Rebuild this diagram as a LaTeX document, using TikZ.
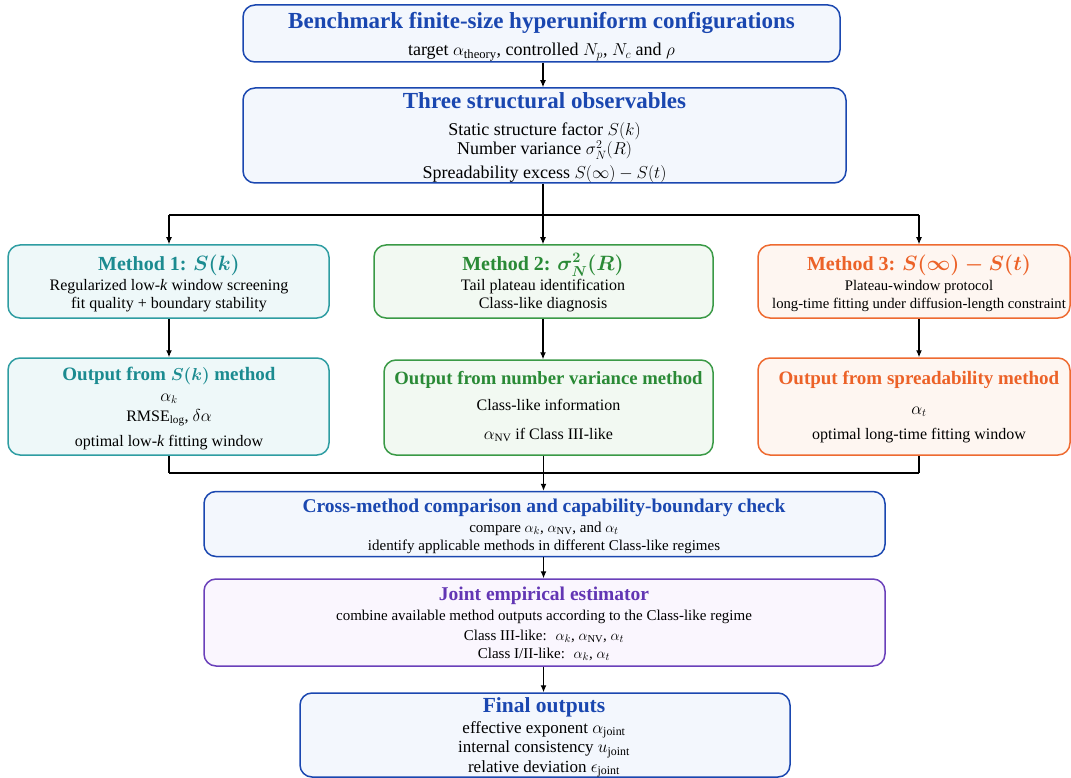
\documentclass[tikz,border=0pt]{standalone}
\usepackage{amsmath}
\usepackage{fontspec}
\setmainfont{Liberation Serif}
\usetikzlibrary{arrows.meta}
\definecolor{cblue}{HTML}{1A47B0}
\definecolor{fblue}{HTML}{F3F7FD}
\definecolor{cteal}{HTML}{1B8B90}
\definecolor{bteal}{HTML}{2E9DA2}
\definecolor{fteal}{HTML}{EEF8F9}
\definecolor{cgreen}{HTML}{2A8A36}
\definecolor{bgreen}{HTML}{3A9A46}
\definecolor{fgreen}{HTML}{F2F9F2}
\definecolor{corange}{HTML}{EC6228}
\definecolor{borange}{HTML}{EE6A30}
\definecolor{forange}{HTML}{FEF6F1}
\definecolor{cpurple}{HTML}{6236B4}
\definecolor{bpurple}{HTML}{6A40BA}
\definecolor{fpurple}{HTML}{FAF6FE}
\newcommand{\fsz}[1]{\fontsize{#1}{1.2\dimexpr#1pt\relax}\selectfont}
\begin{document}
\begin{tikzpicture}[x=1pt,y=-1pt,
  box/.style={draw, rounded corners=12pt, line width=1.5pt, inner sep=0pt, anchor=center},
  bluebox/.style={box, draw=cblue, fill=fblue},
  tealbox/.style={box, draw=bteal, fill=fteal},
  greenbox/.style={box, draw=bgreen, fill=fgreen},
  orangebox/.style={box, draw=borange, fill=forange},
  purplebox/.style={box, draw=bpurple, fill=fpurple},
  txt/.style={anchor=base, inner sep=0pt},
  ttl/.style={txt, font=\bfseries},
  conn/.style={line width=1.1pt, black},
  arr/.style={conn, -{Latex[length=7pt,width=6pt]}}
]
\useasboundingbox (0,0) rectangle (1071,778);

% ---------- boxes ----------
\node[bluebox, minimum width=597pt, minimum height=57pt] (b1) at (541.5,33.5) {};
\node[bluebox, minimum width=603pt, minimum height=95pt] (b2) at (544.5,135.5) {};
\node[tealbox, minimum width=321pt, minimum height=73pt] (m1) at (168.5,281.5) {};
\node[greenbox, minimum width=339pt, minimum height=73pt] (m2) at (543.5,281.5) {};
\node[orangebox, minimum width=312pt, minimum height=73pt] (m3) at (914,281.5) {};
\node[tealbox, minimum width=321pt, minimum height=97pt] (o1) at (168.5,406.5) {};
\node[greenbox, minimum width=329pt, minimum height=95pt] (o2) at (548.5,407.5) {};
\node[orangebox, minimum width=312pt, minimum height=97pt] (o3) at (914,406.5) {};
\node[bluebox, minimum width=681pt, minimum height=65pt] (cr) at (544.5,524) {};
\node[purplebox, minimum width=681pt, minimum height=87pt] (jt) at (544.5,622.5) {};
\node[bluebox, minimum width=490pt, minimum height=84pt] (fo) at (545,735) {};

% ---------- texts ----------
\node[ttl, text=cblue, font=\bfseries\fsz{23}] (b1t) at (541.5,29) {Benchmark finite-size hyperuniform configurations};
\node[txt, font=\fsz{18}] (b1a) at (541.5,55.5) {target $\alpha_{\mathrm{theory}}$, controlled $N_p$, $N_c$ and $\rho$};

\node[ttl, text=cblue, font=\bfseries\fsz{23}] (b2t) at (544.5,109) {Three structural observables};
\node[txt, font=\fsz{18}] (b2a) at (544.5,135.5) {Static structure factor $S(k)$};
\node[txt, font=\fsz{18}] (b2b) at (544.5,155) {Number variance $\sigma_N^2(R)$};
\node[txt, font=\fsz{18}] (b2c) at (544.5,178.5) {Spreadability excess $S(\infty)-S(t)$};

\node[ttl, text=cteal, font=\bfseries\boldmath\fsz{20}] (m1t) at (169,270) {Method 1: $S(k)$};
\node[txt, font=\fsz{16}] (m1a) at (169,290) {Regularized low-\textit{k} window screening};
\node[txt, font=\fsz{16}] (m1b) at (169,308) {fit quality + boundary stability};

\node[ttl, text=cgreen, font=\bfseries\boldmath\fsz{20}] (m2t) at (543,270) {Method 2: $\sigma_N^2(R)$};
\node[txt, font=\fsz{16}] (m2a) at (543,290) {Tail plateau identification};
\node[txt, font=\fsz{16}] (m2b) at (543,308) {Class-like diagnosis};

\node[ttl, text=corange, font=\bfseries\boldmath\fsz{20}] (m3t) at (919,270) {Method 3: $S(\infty)-S(t)$};
\node[txt, font=\fsz{14.7}] (m3a) at (919,290) {Plateau-window protocol};
\node[txt, font=\fsz{14.7}] (m3b) at (919,308) {long-time fitting under diffusion-length constraint};

\node[ttl, text=cteal, font=\bfseries\fsz{19}] (o1t) at (169,380) {Output from {\boldmath$S(k)$} method};
\node[txt, font=\fsz{16}] (o1a) at (169,401) {$\alpha_k$};
\node[txt, font=\fsz{16}] (o1b) at (169,421) {RMSE$_{\mathrm{log}}$, $\delta\alpha$};
\node[txt, font=\fsz{16}] (o1c) at (169,446) {optimal low-\textit{k} fitting window};

\node[ttl, text=cgreen, font=\bfseries\fsz{18.7}] (o2t) at (548.5,384) {Output from number variance method};
\node[txt, font=\fsz{16}] (o2a) at (548.5,410) {Class-like information};
\node[txt, font=\fsz{16}] (o2b) at (548.5,439) {$\alpha_{\mathrm{NV}}$ if Class III-like};

\node[ttl, text=corange, font=\bfseries\fsz{19}] (o3t) at (919,384) {Output from spreadability method};
\node[txt, font=\fsz{16}] (o3a) at (919,414) {$\alpha_t$};
\node[txt, font=\fsz{16}] (o3b) at (919,439) {optimal long-time fitting window};

\node[ttl, text=cblue, font=\bfseries\fsz{19.5}] (crt) at (544,512) {Cross-method comparison and capability-boundary check};
\node[txt, font=\fsz{15}] (cra) at (544,532) {compare $\alpha_k$, $\alpha_{\mathrm{NV}}$, and $\alpha_t$};
\node[txt, font=\fsz{15}] (crb) at (544,550) {identify applicable methods in different Class-like regimes};

\node[ttl, text=cpurple, font=\bfseries\fsz{19.5}] (jtt) at (544,600) {Joint empirical estimator};
\node[txt, font=\fsz{15}] (jta) at (544,620) {combine available method outputs according to the Class-like regime};
\node[txt, font=\fsz{15}] (jtb) at (544,640) {Class III-like:~ $\alpha_k$, $\alpha_{\mathrm{NV}}$, $\alpha_t$};
\node[txt, font=\fsz{15}] (jtc) at (544,658) {Class I/II-like:~ $\alpha_k$, $\alpha_t$};

\node[ttl, text=cblue, font=\bfseries\fsz{21.5}] (fot) at (544,712) {Final outputs};
\node[txt, font=\fsz{17}] (foa) at (544,733) {effective exponent $\alpha_{\mathrm{joint}}$};
\node[txt, font=\fsz{17}] (fob) at (544,752.5) {internal consistency $u_{\mathrm{joint}}$};
\node[txt, font=\fsz{17}] (foc) at (544,772) {relative deviation $\epsilon_{\mathrm{joint}}$};

% ---------- connectors ----------
\coordinate (sa) at (543,215);
\coordinate (sl) at (169,215);
\coordinate (sr) at (919,215);
\coordinate (ja) at (543.5,473);
\coordinate (jl) at (169,473);
\coordinate (jr) at (919,473);

\draw[arr] (b1.south -| sa) -- (b2.north -| sa);
\draw[conn] (b2.south -| sa) -- (sa);
\draw[conn] (sl) -- (sr);
\draw[arr] (sl) -- (m1.north -| sl);
\draw[arr] (sa) -- (m2.north -| sa);
\draw[arr] (sr) -- (m3.north -| sr);

\draw[arr] (m1.south -| sl) -- (o1.north -| sl);
\draw[arr] (m2.south -| sa) -- (o2.north -| sa);
\draw[arr] (m3.south -| sr) -- (o3.north -| sr);

\draw[conn] (o1.south -| jl) -- (jl);
\draw[conn] (o2.south -| ja) -- (ja);
\draw[conn] (o3.south -| jr) -- (jr);
\draw[conn] (jl) -- (jr);
\draw[arr] (ja) -- (cr.north -| ja);
\draw[arr] (cr.south -| ja) -- (jt.north -| ja);
\draw[arr] (jt.south -| ja) -- (fo.north -| ja);
\end{tikzpicture}
\end{document}
